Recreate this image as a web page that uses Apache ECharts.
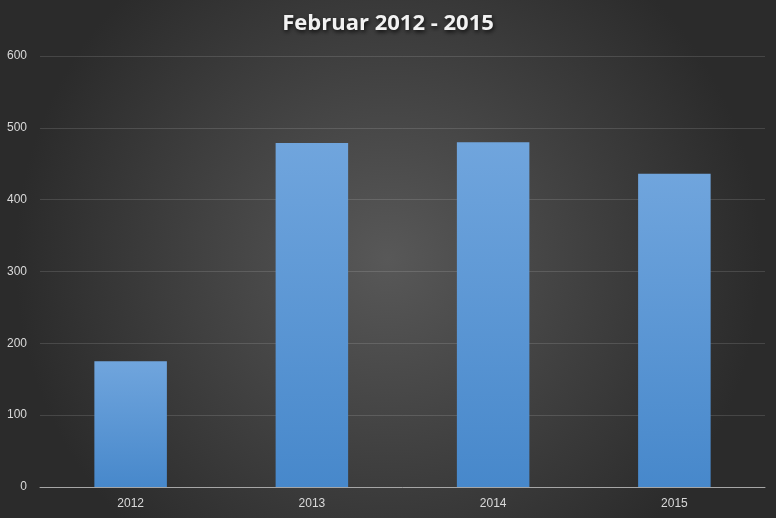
<!DOCTYPE html>
<html><head><meta charset="utf-8">
<script src="https://cdn.jsdelivr.net/npm/echarts@6/dist/echarts.min.js"></script>
<style>html,body{margin:0;padding:0;background:#333;}#c{width:776px;height:518px;}</style>
</head><body><div id="c"></div>
<script>
const categories = ['2012', '2013', '2014', '2015'];
const values = [175, 479, 480, 436];
const yTicks = [0, 100, 200, 300, 400, 500, 600];

const chart = echarts.init(document.getElementById('c'));
chart.setOption({
  backgroundColor: {
    type: 'radial', x: 0.5, y: 0.5, r: 0.72,
    colorStops: [{offset: 0, color: '#585858'}, {offset: 1, color: '#2b2b2b'}]
  },
  title: {
    text: 'Februar 2012 - 2015', left: 'center', top: 8,
    textStyle: {
      color: '#f2f2f2', fontSize: 22, fontWeight: 'bold', fontFamily: 'Open Sans',
      textShadowColor: 'rgba(0,0,0,0.8)', textShadowBlur: 4, textShadowOffsetX: 1, textShadowOffsetY: 2
    }
  },
  grid: {left: 40, right: 11, top: 56, bottom: 31},
  xAxis: {
    type: 'category', data: categories,
    axisLine: {lineStyle: {color: '#a6a6a6', width: 1}},
    axisTick: {show: false},
    axisLabel: {color: '#d9d9d9', fontSize: 12, fontFamily: 'Liberation Sans', margin: 11}
  },
  yAxis: {
    type: 'value', min: yTicks[0], max: yTicks[yTicks.length - 1], interval: 100,
    axisLine: {show: false}, axisTick: {show: false},
    axisLabel: {color: '#d9d9d9', fontSize: 12, fontFamily: 'Liberation Sans', margin: 13},
    splitLine: {lineStyle: {color: 'rgba(255,255,255,0.13)', width: 1}}
  },
  series: [{
    type: 'bar', data: values, barWidth: '40%',
    itemStyle: {
      color: {type: 'linear', x: 0, y: 0, x2: 0, y2: 1,
        colorStops: [{offset: 0, color: '#70a5dd'}, {offset: 1, color: '#4788cb'}]},
      shadowColor: 'rgba(0,0,0,0.5)', shadowBlur: 6, shadowOffsetX: 1, shadowOffsetY: 1
    }
  }]
});
</script></body></html>
